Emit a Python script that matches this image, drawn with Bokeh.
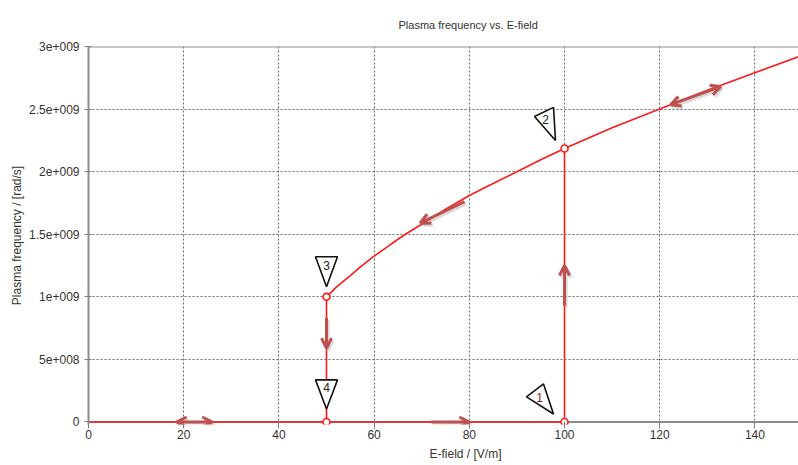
from bokeh.plotting import figure
from bokeh.models import Range1d, FixedTicker, Span, Arrow, OpenHead, Title
from bokeh.embed import file_html
from bokeh.resources import INLINE
from bokeh.core.properties import value

# ---------------- data ----------------
step_E = [0, 100, 100]
step_w = [0, 0, 2.185e9]
curve_E = [50, 52, 55, 57, 60, 63, 65, 67, 70, 75, 80, 85, 90, 95, 100,
           110, 120, 130, 140, 150]
curve_w = [1.0e9, 1.075e9, 1.17e9, 1.235e9, 1.325e9, 1.405e9, 1.46e9, 1.51e9, 1.58e9,
           1.70e9, 1.81e9, 1.905e9, 2.0e9, 2.095e9, 2.185e9,
           2.35e9, 2.5e9, 2.65e9, 2.79e9, 2.93e9]
drop_E = [50, 50]
drop_w = [1.0e9, 0]
state_E = [100, 100, 50, 50]
state_w = [0, 2.185e9, 1.0e9, 0]
state_labels = ["1", "2", "3", "4"]

x_ticks = [0, 20, 40, 60, 80, 100, 120, 140]
y_ticks = [0, 5e8, 1e9, 1.5e9, 2e9, 2.5e9, 3e9]
y_tick_labels = ["0", "5e+008", "1e+009", "1.5e+009", "2e+009", "2.5e+009", "3e+009"]

title_text = "Plasma frequency vs. E-field"
x_label_text = "E-field / [V/m]"
y_label_text = "Plasma frequency / [rad/s]"

# direction arrows (E start, w start, E end, w end, double-headed)
arrow_E0 = [18.5, 72.0, 50.0, 100.0, 79.0, 122.3]
arrow_w0 = [0.0, 0.0, 0.83e9, 0.93e9, 1.76e9, 2.535e9]
arrow_E1 = [26.0, 80.0, 50.0, 100.0, 69.7, 132.8]
arrow_w1 = [0.0, 0.0, 0.59e9, 1.25e9, 1.59e9, 2.68e9]
arrow_double = [True, False, False, False, False, True]

# callout triangle shapes (screen-pixel offsets from each state point, y down)
tri_px = {
    "1": [(-38, -25), (-21, -38), (-11, -8)],
    "2": [(-30, -32), (-11, -41), (-9, -8)],
    "3": [(-11, -40), (11, -40), (0, -10)],
    "4": [(-11, -42), (11, -42), (0, -13)],
}
lab_px = {"1": (-25, -24), "2": (-19, -29), "3": (0, -31), "4": (0, -34)}
lab_col = {"1": "#7a1f1f", "2": "#222222", "3": "#222222", "4": "#222222"}

# ---------------- figure ----------------
W, H = 798, 464
BL, BR, BT, BB = 88, 0, 46, 41
FW, FH = W - BL - BR, H - BT - BB
X0 = 0
X1 = X0 + FW / 4.76
Y0, Y1 = -0.02e9, 3e9
sx = FW / (X1 - X0)
sy = FH / (Y1 - Y0)

FONT = "Liberation Sans"
TXT = "#333333"
RED = "#ff1a1a"
ARW = "#c0504d"

p = figure(width=W, height=H, x_range=Range1d(X0, X1), y_range=Range1d(Y0, Y1),
           output_backend="svg", toolbar_location=None,
           min_border_left=BL, min_border_right=BR, min_border_top=BT, min_border_bottom=30)
p.outline_line_color = None
p.background_fill_color = "white"

p.title.text = title_text
p.title.align = "left"
p.title.offset = 310
p.title.text_font = FONT
p.title.text_font_size = "11px"
p.title.text_font_style = "normal"
p.title.text_color = TXT
p.title.padding = dict(left=0, right=0, top=0, bottom=11)

for ax in (p.xaxis[0], p.yaxis[0]):
    ax.major_label_text_font = FONT
    ax.major_label_text_font_size = "12px"
    ax.major_label_text_color = TXT
    ax.minor_tick_line_color = None
    ax.major_tick_line_color = "#808080"
    ax.major_tick_in = 3
    ax.major_tick_out = 4
    ax.major_tick_line_width = 1

p.xaxis.ticker = FixedTicker(ticks=x_ticks)
p.xaxis.axis_line_color = None
p.xaxis.major_label_standoff = 1

p.yaxis.ticker = FixedTicker(ticks=y_ticks)
p.yaxis.major_label_overrides = {t: l for t, l in zip(y_ticks, y_tick_labels)}
p.yaxis.axis_line_color = "#8c8c8c"
p.yaxis.axis_line_width = 2
p.yaxis.axis_label = y_label_text
p.yaxis.axis_label_text_font = FONT
p.yaxis.axis_label_text_font_size = "12px"
p.yaxis.axis_label_text_font_style = "normal"
p.yaxis.axis_label_text_color = TXT
p.yaxis.axis_label_standoff = 2

# x-axis label as a below-panel title so it can sit off-centre like the reference
xlab = Title(text=x_label_text, align="left", offset=341, text_font=FONT,
             text_font_size="12px", text_font_style="normal", text_color=TXT,
             standoff=7)
p.add_layout(xlab, "below")

for g in (p.xgrid[0], p.ygrid[0]):
    g.grid_line_color = "#686868"
    g.grid_line_dash = "2 2"
    g.grid_line_width = 1
p.xgrid.ticker = FixedTicker(ticks=x_ticks)
p.ygrid.ticker = FixedTicker(ticks=y_ticks)

p.add_layout(Span(location=0, dimension="width", line_color="#8c8c8c", line_width=2, level="underlay"))
p.add_layout(Span(location=3e9, dimension="width", line_color="#8c8c8c", line_width=2, level="underlay"))

# ---------------- data lines ----------------
p.line(step_E, step_w, line_color=RED, line_width=1.6)
p.line(curve_E, curve_w, line_color=RED, line_width=1.6)
p.line(drop_E, drop_w, line_color=RED, line_width=1.6)

# ---------------- arrows ----------------
for e0, w0, e1, w1, dbl in zip(arrow_E0, arrow_w0, arrow_E1, arrow_w1, arrow_double):
    sh_dx, sh_dy = 1.5 / sx, -2.0 / sy
    p.add_layout(Arrow(x_start=e0 + sh_dx, y_start=w0 + sh_dy, x_end=e1 + sh_dx, y_end=w1 + sh_dy,
                       line_color="#999999", line_alpha=0.35, line_width=3.5,
                       end=OpenHead(size=10, line_color="#999999", line_alpha=0.35, line_width=3.5),
                       start=OpenHead(size=10, line_color="#999999", line_alpha=0.35, line_width=3.5) if dbl else None))
    p.add_layout(Arrow(x_start=e0, y_start=w0, x_end=e1, y_end=w1,
                       line_color=ARW, line_width=3,
                       end=OpenHead(size=10, line_color=ARW, line_width=3),
                       start=OpenHead(size=10, line_color=ARW, line_width=3) if dbl else None))

# ---------------- callout triangles ----------------
xs, ys = [], []
for e, w, lab in zip(state_E, state_w, state_labels):
    xs.append([e + dx / sx for dx, dy in tri_px[lab]])
    ys.append([w - dy / sy for dx, dy in tri_px[lab]])
p.patches(xs, ys, fill_color="white", line_color="#111111", line_width=1.6)

for e, w, lab in zip(state_E, state_w, state_labels):
    ox, oy = lab_px[lab]
    p.text([e], [w], text=[lab], x_offset=ox, y_offset=oy, text_align="center",
           text_baseline="middle", text_font=value(FONT), text_font_size="12px",
           text_color=lab_col[lab])

p.scatter(state_E, state_w, marker="circle", size=7, fill_color="white",
          line_color=RED, line_width=1.6)

open("out.html", "w").write(file_html(p, INLINE))
